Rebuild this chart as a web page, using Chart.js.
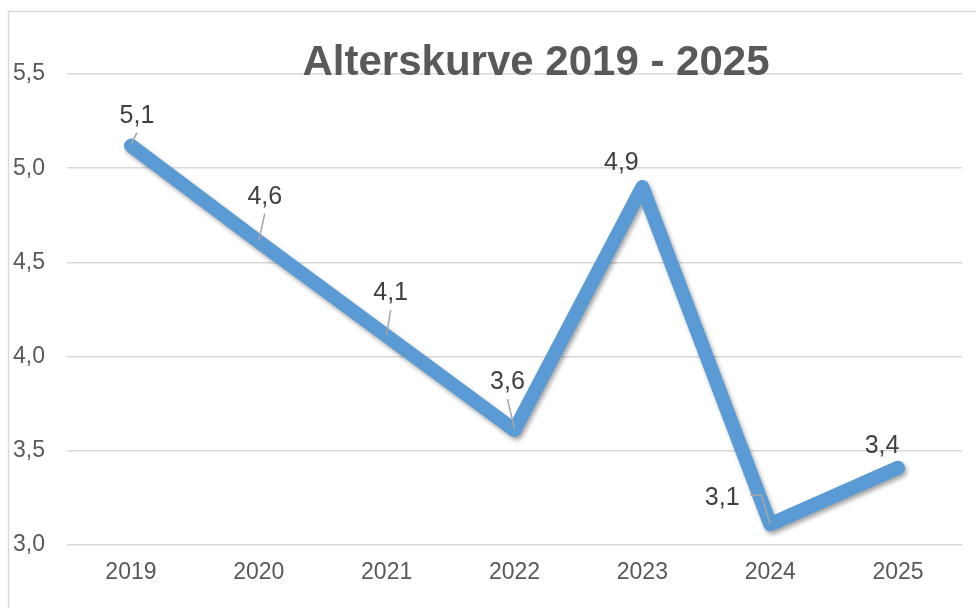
<!DOCTYPE html>
<html>
<head>
<meta charset="utf-8">
<script src="https://cdn.jsdelivr.net/npm/chart.js@4"></script>
<style>
  html, body { margin: 0; padding: 0; background: #fff; overflow: hidden; }
  #wrap { position: relative; width: 976px; height: 608px; }
  canvas { display: block; }
</style>
</head>
<body>
<div id="wrap"><canvas id="c" width="976" height="608"></canvas></div>
<script>
const years = ['2019', '2020', '2021', '2022', '2023', '2024', '2025'];
const values = [5.12, 4.61, 4.11, 3.61, 4.90, 3.11, 3.41];
const valueLabels = ['5,1', '4,6', '4,1', '3,6', '4,9', '3,1', '3,4'];
const yMin = 3.0, yMax = 5.5, yStep = 0.5;
const titleText = 'Alterskurve 2019 - 2025';

// label placement relative to each point (style only)
const labelOffsets = [[6, -23], [6, -38], [4, -36], [-7, -41], [-21, -17], [-48, -19], [-16, -15]];
const leaderKinds = ['line', 'line', 'line', 'line', 'none', 'elbow', 'none'];

const FONT = '"Liberation Sans", Arial, sans-serif';

const framePlugin = {
  id: 'frame',
  beforeDraw(chart) {
    const ctx = chart.ctx;
    ctx.save();
    ctx.fillStyle = '#fff';
    ctx.fillRect(0, 0, chart.width, chart.height);
    ctx.strokeStyle = '#d9d9d9';
    ctx.lineWidth = 1.5;
    ctx.beginPath();
    ctx.moveTo(8.5, chart.height + 2);
    ctx.lineTo(8.5, 11.5);
    ctx.lineTo(chart.width + 2, 11.5);
    ctx.stroke();
    ctx.restore();
  }
};

const shadowPlugin = {
  id: 'lineShadow',
  beforeDatasetsDraw(chart) {
    const ctx = chart.ctx;
    ctx.save();
    ctx.shadowColor = 'rgba(0,0,0,0.35)';
    ctx.shadowBlur = 4;
    ctx.shadowOffsetX = 2;
    ctx.shadowOffsetY = 3;
  },
  afterDatasetsDraw(chart) {
    chart.ctx.restore();
  }
};

const labelPlugin = {
  id: 'valueLabels',
  afterDatasetsDraw(chart) {
    const ctx = chart.ctx;
    const meta = chart.getDatasetMeta(0);
    ctx.save();
    meta.data.forEach((pt, i) => {
      const lx = pt.x + labelOffsets[i][0];
      const ly = pt.y + labelOffsets[i][1];
      ctx.strokeStyle = '#a6a6a6';
      ctx.lineWidth = 1.5;
      if (leaderKinds[i] === 'line') {
        ctx.beginPath();
        ctx.moveTo(lx, ly + 10);
        ctx.lineTo(pt.x, pt.y - 1);
        ctx.stroke();
      } else if (leaderKinds[i] === 'elbow') {
        ctx.beginPath();
        ctx.moveTo(lx + 28, ly - 10);
        ctx.lineTo(lx + 39, ly - 10);
        ctx.lineTo(pt.x, pt.y);
        ctx.stroke();
      }
      ctx.fillStyle = '#404040';
      ctx.font = '25px ' + FONT;
      ctx.textAlign = 'center';
      ctx.textBaseline = 'alphabetic';
      ctx.fillText(valueLabels[i], lx, ly);
    });
    ctx.restore();
  }
};

const titlePlugin = {
  id: 'bigTitle',
  afterDraw(chart) {
    const ctx = chart.ctx;
    ctx.save();
    ctx.fillStyle = '#595959';
    ctx.font = 'bold 42px ' + FONT;
    ctx.textAlign = 'center';
    ctx.textBaseline = 'alphabetic';
    ctx.fillText(titleText, 536, 75);
    ctx.restore();
  }
};

new Chart(document.getElementById('c'), {
  type: 'line',
  data: {
    labels: years,
    datasets: [{
      data: values,
      borderColor: '#5b9bd5',
      borderWidth: 14,
      borderCapStyle: 'round',
      borderJoinStyle: 'round',
      pointRadius: 0,
      pointHoverRadius: 0,
      tension: 0,
      fill: false
    }]
  },
  options: {
    responsive: false,
    animation: false,
    events: [],
    layout: { padding: { top: 74, right: 14, bottom: 0, left: 0 } },
    plugins: { legend: { display: false }, tooltip: { enabled: false }, title: { display: false } },
    scales: {
      x: {
        offset: true,
        grid: { display: false, drawTicks: false },
        border: { display: false },
        ticks: { color: '#595959', font: { family: FONT, size: 23 }, padding: 14, maxRotation: 0 },
        afterFit(scale) { scale.height = 63; }
      },
      y: {
        min: yMin, max: yMax,
        grid: { color: '#d9d9d9', lineWidth: 1.5, drawTicks: false },
        border: { display: false },
        ticks: {
          stepSize: yStep,
          color: '#595959',
          font: { family: FONT, size: 23 },
          padding: 22,
          callback: v => v.toFixed(1).replace('.', ',')
        },
        afterFit(scale) { scale.width = 67; }
      }
    }
  },
  plugins: [framePlugin, shadowPlugin, labelPlugin, titlePlugin]
});
</script>
</body>
</html>
